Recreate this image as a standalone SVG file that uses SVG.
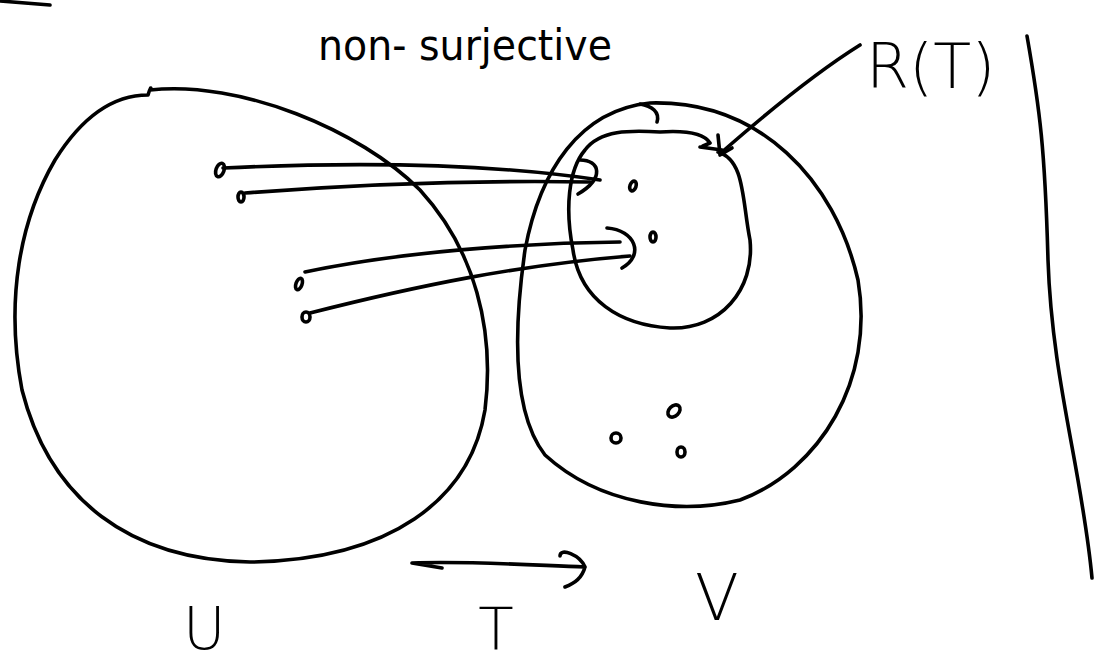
<svg xmlns="http://www.w3.org/2000/svg" width="1096" height="666" viewBox="0 0 1096 666">
<style>
.s{fill:none;stroke:#000;stroke-width:3.6;stroke-linecap:round;stroke-linejoin:round}
.d{fill:none;stroke:#000;stroke-width:3.6}
.t{font-family:"DejaVu Sans","Liberation Sans",sans-serif;fill:#000}
</style>
<rect width="1096" height="666" fill="#fff"/>
<g id="marks">
<path class="s" d="M0,1 L50,5"/>
<path class="s" d="M1027,36 C1040,110 1045,150 1048,260 C1052,380 1082,470 1092,578"/>
</g>
<g id="title"><text class="t" x="318" y="60" font-size="42" textLength="294" lengthAdjust="spacingAndGlyphs">non- surjective</text></g>
<g id="U">
<path class="s" d="M148,95 C150,88 152,86 150,90 C240,80 360,130 420,190 C475,250 495,330 485,410 C470,500 390,560 250,562 C130,560 50,500 22,390 C5,300 20,220 55,160 C80,120 110,95 148,95 Z"/>
<text class="t" x="183" y="649" font-size="58" font-weight="300">U</text>
</g>
<g id="V">
<path class="s" d="M650,103 C760,100 835,180 858,280 C875,380 820,470 740,500 C680,515 600,505 545,455 C510,410 515,320 525,250 C540,170 580,110 650,103 Z"/>
<path class="s" d="M640,104 C652,106 660,112 657,122"/>
<text class="t" x="695" y="620" font-size="64" font-weight="300">V</text>
</g>
<g id="RT">
<path class="s" d="M718,152 C745,160 742,200 750,240 C755,290 720,330 670,328 C620,325 580,300 573,250 C565,210 568,170 585,150 C600,130 630,130 660,132 C690,130 705,135 710,143 L703,146 M700,147 L722,150"/>
<path class="s" d="M718,135 L720,155 M720,155 L732,148"/>
<text class="t" x="866" y="88" font-size="62" font-weight="300">R(T)</text>
</g>
<g id="T">
<text class="t" x="496" y="650" font-size="58" font-weight="300" text-anchor="middle">T</text>
</g>
<g id="dots">
<ellipse class="d" cx="220" cy="170" rx="4" ry="7" transform="rotate(20 220 170)"/>
<ellipse class="d" cx="241" cy="197" rx="3" ry="5"/>
<ellipse class="d" cx="299" cy="284" rx="3" ry="6" transform="rotate(20 299 284)"/>
<ellipse class="d" cx="306" cy="317" rx="4" ry="5"/>
<ellipse class="d" cx="633" cy="186" rx="3" ry="5" transform="rotate(20 633 186)"/>
<ellipse class="d" cx="653" cy="237" rx="3" ry="5"/>
<ellipse class="d" cx="674" cy="411" rx="5" ry="7" transform="rotate(45 674 411)"/>
<ellipse class="d" cx="616" cy="438" rx="5" ry="5"/>
<ellipse class="d" cx="681" cy="452" rx="4" ry="5"/>
</g>
<g id="connectors">
<path class="s" d="M223,168 C350,162 480,162 600,180"/>
<path class="s" d="M245,193 C350,185 470,180 590,182"/>
<path class="s" d="M580,160 C600,160 605,178 578,194"/>
<path class="s" d="M305,272 C400,252 520,243 620,242"/>
<path class="s" d="M310,313 C420,285 520,265 630,256"/>
<path class="s" d="M607,228 C635,230 645,255 622,268"/>
<path class="s" d="M860,45 C820,70 770,110 722,152"/>
<path class="s" d="M412,563 C470,561 530,565 585,567 M412,563 L442,568 M585,567 C580,555 560,547 560,556 M585,567 C582,578 575,583 565,587"/>
</g>
</svg>
